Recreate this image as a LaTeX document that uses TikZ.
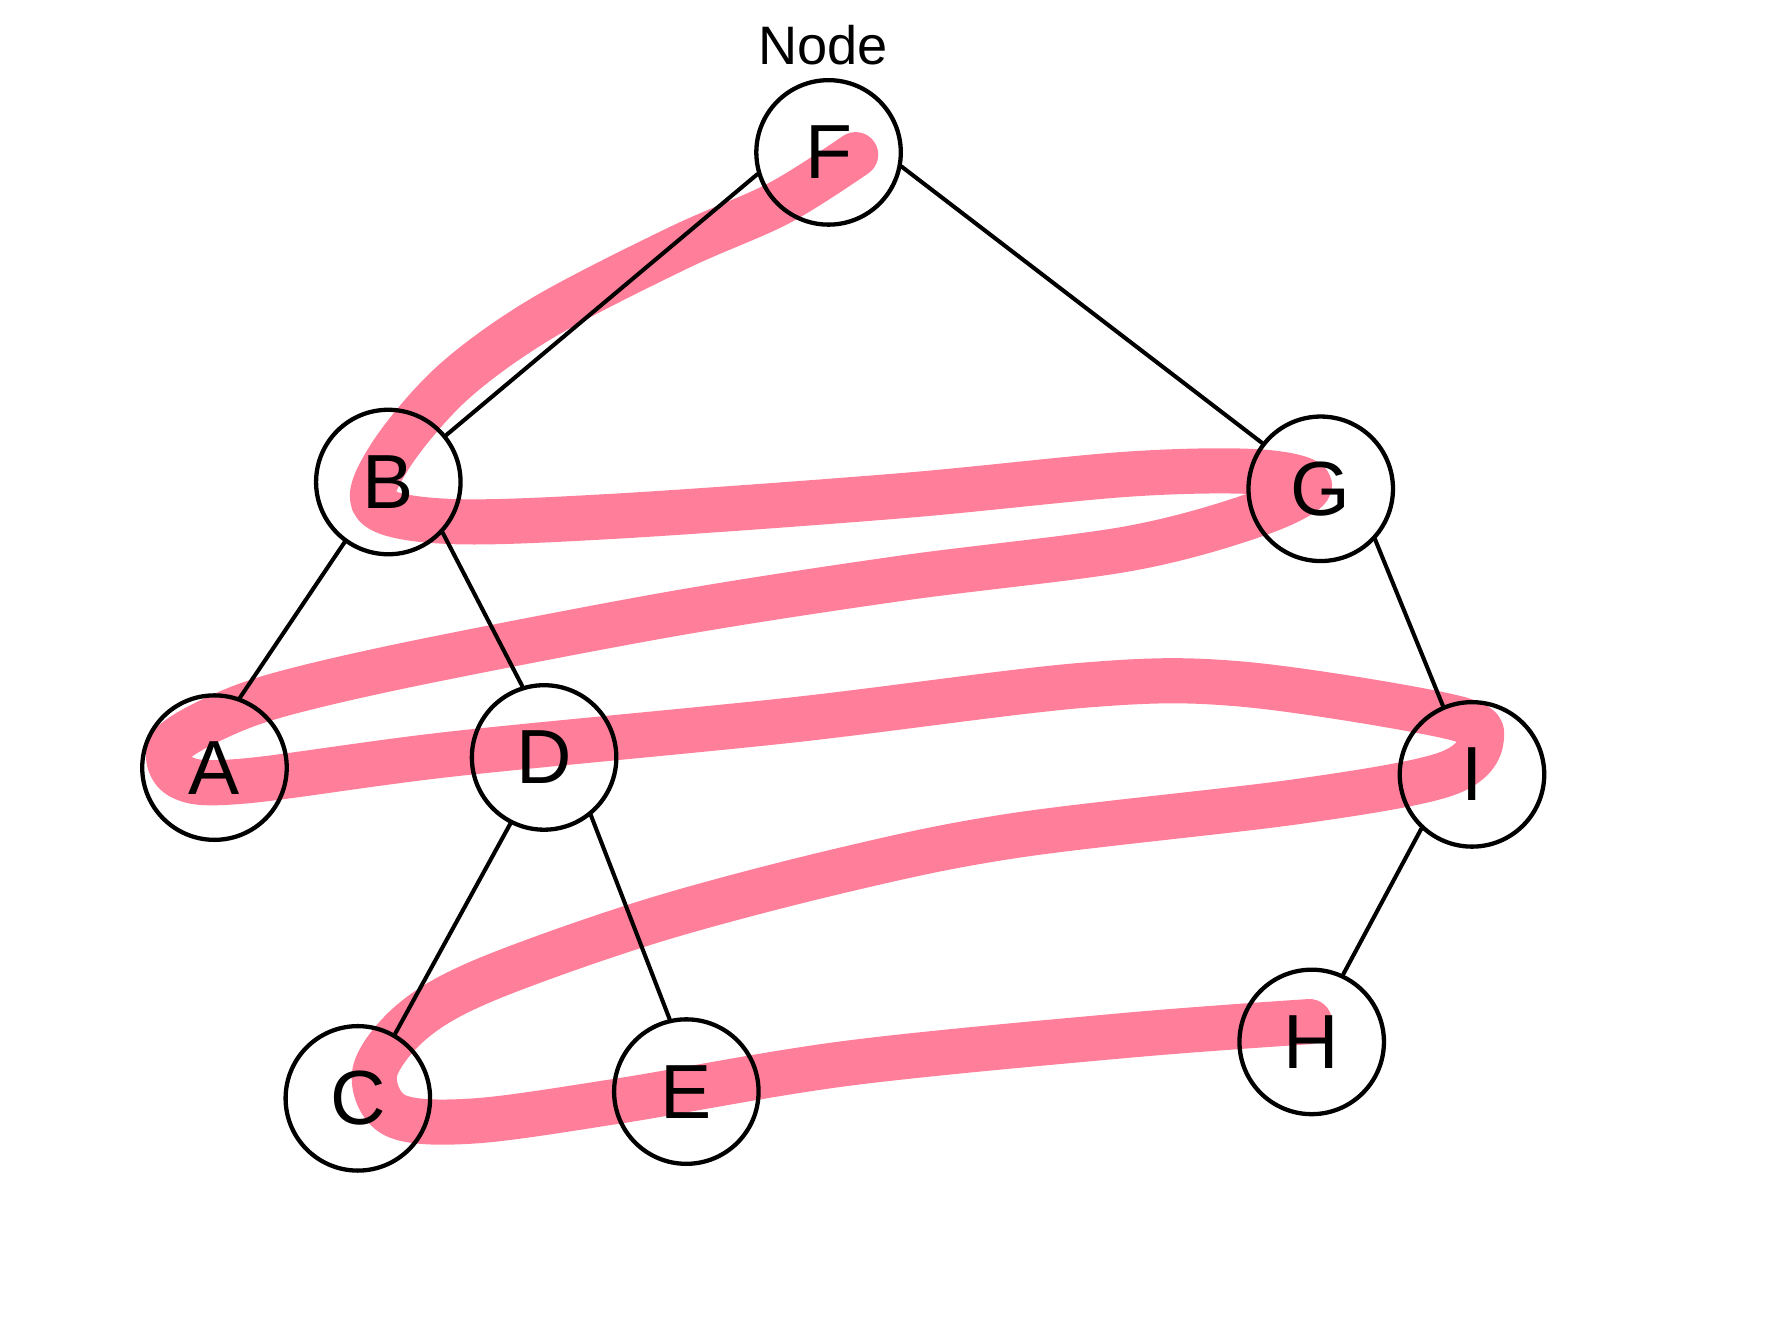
\documentclass[tikz,border=0pt]{standalone}
\usepackage{fontspec}
\setmainfont{Liberation Sans}
\definecolor{hlpink}{HTML}{FF7F9B}
\begin{document}
\begin{tikzpicture}[x=0.5pt,y=-0.5pt,
  tnode/.style={circle,draw=black,line width=1.9pt,minimum size=64pt,inner sep=0pt,font=\fontsize{34}{34}\selectfont},
  edge/.style={draw=black,line width=1.8pt,line cap=round},
  trail/.style={draw=hlpink,line width=20pt,line cap=round,line join=round}]
\useasboundingbox (0,0) rectangle (1568,1168);
% traversal trail (drawn first, under everything)
\draw[trail] plot[smooth,tension=0.55] coordinates {
 (758,137) (690,180) (600,220) (480,282) (400,340) (345,405) (333,448) (400,462)
 (550,457) (800,439) (1000,420) (1115,418) (1160,430) (1115,455) (1000,486)
 (800,512) (600,543) (380,585) (260,612) (200,632) (152,660) (160,688) (215,692)
 (400,668) (700,638) (960,607) (1100,606) (1285,635) (1312,656) (1280,686)
 (1150,710) (900,740) (750,770) (580,815) (430,868) (365,905) (332,950)
 (350,988) (420,993) (550,975) (750,942) (1000,917) (1160,905)};
% nodes
\node[tnode] (F) at (734,135) {F};
\node[tnode] (B) at (344,427) {B};
\node[tnode] (G) at (1170,433) {G};
\node[tnode] (A) at (190,680) {A};
\node[tnode] (D) at (482,671) {D};
\node[tnode] (I) at (1304,686) {I};
\node[tnode] (C) at (317,973) {C};
\node[tnode] (E) at (608,967) {E};
\node[tnode] (H) at (1162,923) {H};
\node[font=\fontsize{24}{24}\selectfont] (lbl) at (729,40) {Node};
% edges
\draw[edge] (F.197) -- (B.39);
\draw[edge] (F.-11) -- (G.142);
\draw[edge] (B.234) -- (A.70);
\draw[edge] (B.-43) -- (D.107);
\draw[edge] (G.-43) -- (I.113);
\draw[edge] (D.-117) -- (C.60);
\draw[edge] (D.-51) -- (E.103);
\draw[edge] (I.-133) -- (H.65);
\end{tikzpicture}
\end{document}
